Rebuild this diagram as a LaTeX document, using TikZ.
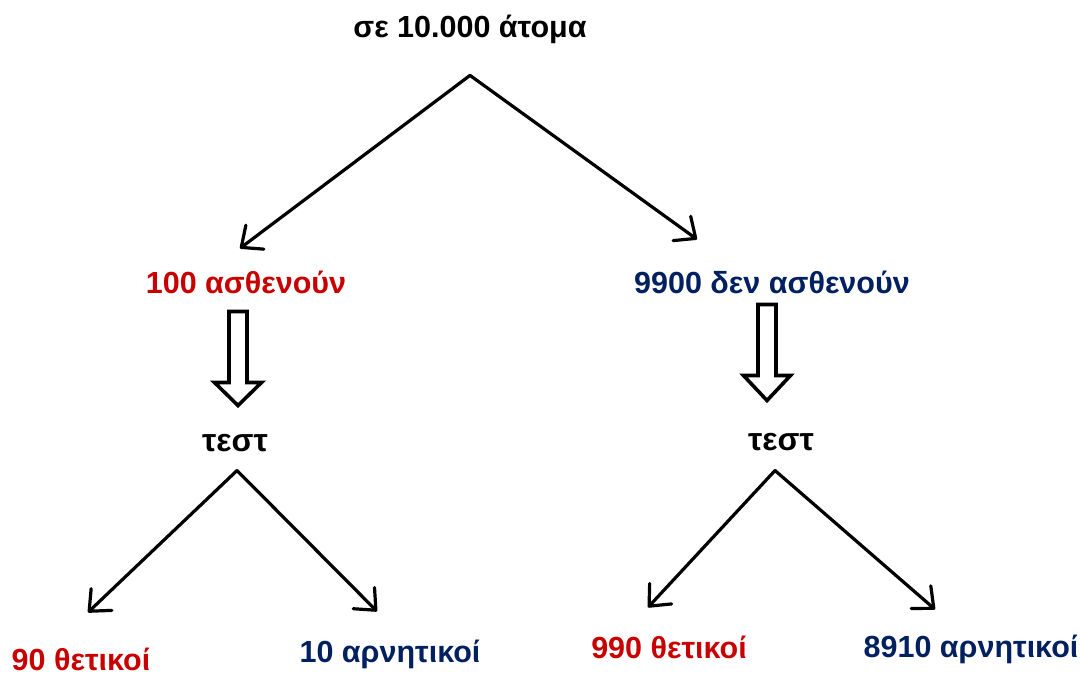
\documentclass[tikz,border=0pt]{standalone}
\usepackage{fontspec}
\setmainfont{Liberation Sans}
\usetikzlibrary{arrows.meta}
\definecolor{sickred}{RGB}{200,0,0}
\definecolor{wellblue}{RGB}{0,32,96}

\begin{document}
\begin{tikzpicture}[x=1pt, y=-1pt,
  font=\fontsize{30.5}{36}\selectfont\bfseries,
  % text labels, placed on their baseline
  label/.style={inner sep=0pt, anchor=base},
  % thin tree connectors with open barbs
  arrow/.style={line width=3.2pt, line cap=round,
    -{Straight Barb[length=17pt, width=30pt, line width=3.2pt, round]}},
  % big hollow block arrow
  hollow/.style={line width=3.6pt, fill=white, line join=miter}
]
\useasboundingbox (0,0) rectangle (1081,675);

% ---- Root ----
\node[label] (root) at (470,37) {σε 10.000 άτομα};

% ---- Level 1 ----
\node[label, text=sickred] (sick) at (246,293) {100 ασθενούν};
\node[label, text=wellblue] (well) at (772,293) {9900 δεν ασθενούν};

% ---- Tests ----
\node[label, font=\fontsize{32}{38}\selectfont\bfseries] (test1) at (235,451) {τεστ};
\node[label, font=\fontsize{32}{38}\selectfont\bfseries] (test2) at (781,450) {τεστ};

% ---- Results ----
\node[label, text=sickred] (pos1) at (81,670) {90 θετικοί};
\node[label, text=wellblue] (neg1) at (390,662) {10 αρνητικοί};
\node[label, text=sickred] (pos2) at (669,658) {990 θετικοί};
\node[label, text=wellblue] (neg2) at (971,657) {8910 αρνητικοί};

% ---- Split points ----
\coordinate (split0) at ([yshift=-32pt]root.south);
\coordinate (split1) at ([xshift=2pt, yshift=-19pt]test1.south);
\coordinate (split2) at ([xshift=-6pt, yshift=-20pt]test2.south);

% ---- Tree flows ----
\draw[arrow] (split0) -- ([xshift=-6pt, yshift=22pt]sick.north);
\draw[arrow] (split0) -- ([xshift=-75pt, yshift=31pt]well.north);
\draw[arrow] (split1) -- ([xshift=7pt, yshift=35pt]pos1.north);
\draw[arrow] (split1) -- ([xshift=-13pt, yshift=28pt]neg1.north);
\draw[arrow] (split2) -- ([xshift=-21pt, yshift=28pt]pos2.north);
\draw[arrow] (split2) -- ([xshift=-36pt, yshift=25pt]neg2.north);

% ---- Hollow arrows to the tests ----
\draw[hollow] ([xshift=-8pt, yshift=-18pt]sick.south) ++(-9,0) -- ++(0,71)
  -- ++(-14.5,0) -- ++(23.5,23) -- ++(23.5,-23) -- ++(-14.5,0) -- ++(0,-71) -- cycle;
\draw[hollow] ([xshift=-5pt, yshift=-11pt]well.south) ++(-9,0) -- ++(0,71)
  -- ++(-14.5,0) -- ++(23.5,25) -- ++(23.5,-25) -- ++(-14.5,0) -- ++(0,-71) -- cycle;

\end{tikzpicture}
\end{document}
